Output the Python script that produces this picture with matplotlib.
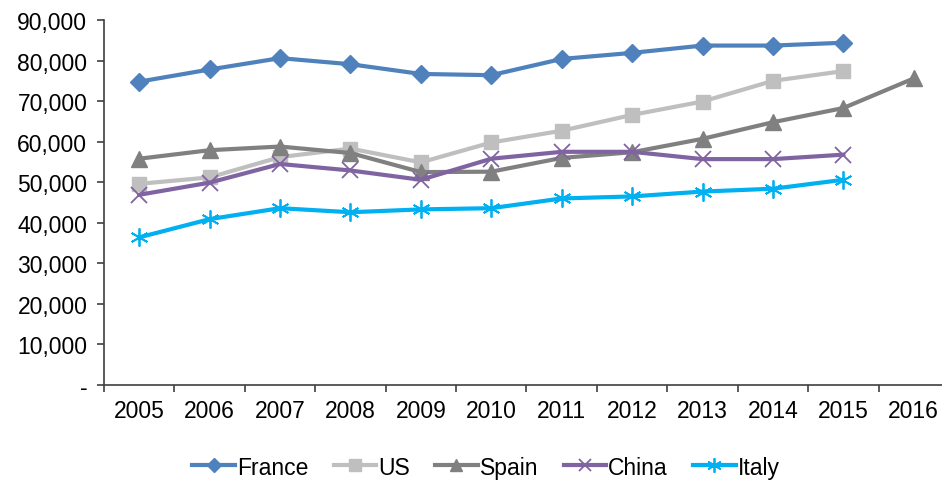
import matplotlib
matplotlib.use("Agg")
import matplotlib.pyplot as plt
from matplotlib.ticker import FuncFormatter, FixedLocator

plt.rcParams['font.family'] = ['Liberation Sans', 'DejaVu Sans']

# Datos
years = ['2005', '2006', '2007', '2008', '2009', '2010',
         '2011', '2012', '2013', '2014', '2015', '2016']
france = [74800, 77800, 80600, 79100, 76700, 76400, 80400, 81900, 83700, 83700, 84400]
us = [49600, 51200, 56200, 58300, 54900, 59800, 62700, 66600, 69900, 75000, 77400]
spain = [55800, 57900, 58800, 57200, 52500, 52600, 56000, 57400, 60700, 64800, 68300, 75600]
china = [46900, 49900, 54500, 52900, 50600, 55800, 57500, 57500, 55700, 55700, 56800]
italy = [36400, 40900, 43600, 42600, 43300, 43600, 46000, 46500, 47700, 48400, 50600]

fs = 16.5

fig = plt.figure(figsize=(9.42, 4.81), dpi=100)
ax = fig.add_axes([0.1104, 0.1975, 0.897, 0.7588])

lw = 3.0
ax.plot(range(len(france)), france, color='#4F81BD', lw=lw, marker='D', ms=9, label='France')
ax.plot(range(len(us)), us, color='#BFBFBF', lw=lw, marker='s', ms=10, label='US')
ax.plot(range(len(spain)), spain, color='#808080', lw=lw, marker='^', ms=11, label='Spain')
ax.plot(range(len(china)), china, color='#8064A2', lw=lw, marker='x', ms=11, mew=1.3, label='China')
ax.plot(range(len(italy)), italy, color='#00B0F0', lw=lw, marker=(6, 2, 0), ms=13, mew=1.3, label='Italy')

ax.set_xlim(-0.5, 11.5)
ax.set_ylim(0, 90000)

# Ejes
for s in ['top', 'right']:
    ax.spines[s].set_visible(False)
for s in ['left', 'bottom']:
    ax.spines[s].set_linewidth(1.2)
    ax.spines[s].set_color('#404040')

ax.yaxis.set_major_locator(FixedLocator(range(0, 90001, 10000)))
ax.yaxis.set_major_formatter(FuncFormatter(lambda v, p: '-' if v == 0 else '{:,.0f}'.format(v)))
ax.tick_params(axis='y', length=5, width=1.2, color='#404040', labelsize=fs, pad=7)

ax.set_xticks([i - 0.5 for i in range(13)])
ax.set_xticklabels([])
ax.tick_params(axis='x', which='major', length=5, width=1.2, color='#404040')
ax.set_xticks(range(len(years)), minor=True)
ax.set_xticklabels(years, minor=True)
ax.tick_params(axis='x', which='minor', length=0, labelsize=fs, pad=10)

fig.legend(loc='center', bbox_to_anchor=(0.516, 0.027), ncol=5, frameon=False,
           fontsize=fs, handlelength=1.85, handletextpad=0.1, columnspacing=1.1,
           markerscale=0.8)

plt.savefig('out.png', dpi=100)
